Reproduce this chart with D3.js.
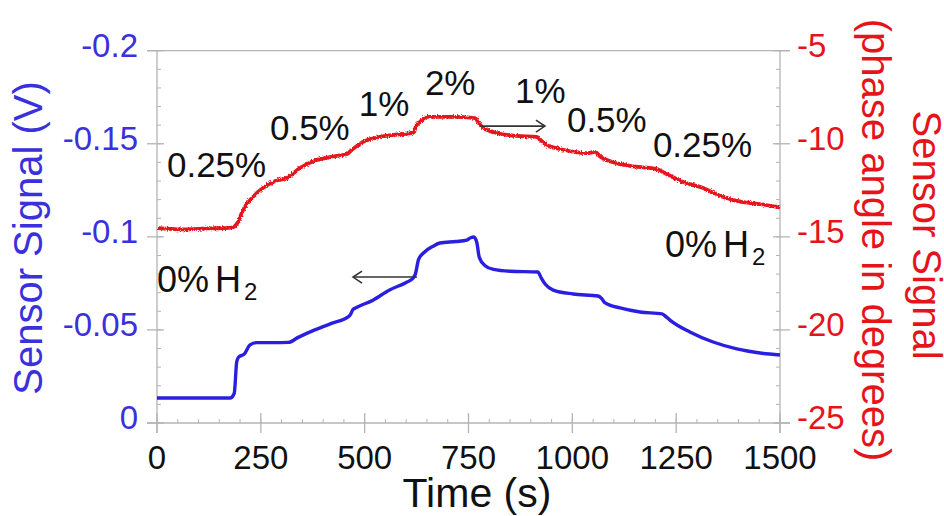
<!DOCTYPE html>
<html>
<head>
<meta charset="utf-8">
<script src="https://cdn.jsdelivr.net/npm/d3@7"></script>
<style>
  html, body { margin: 0; padding: 0; background: #fff; }
  svg { display: block; font-family: "Liberation Sans", Arial, sans-serif; }
</style>
</head>
<body>
<svg id="chart" width="944" height="516"></svg>
<script>
// Voltage signal (left axis), time in s
const blueTime = [0, 100, 176, 186, 192, 197, 210, 224, 240, 280, 316, 340, 380, 420, 460, 465, 472, 480, 520, 560, 600, 617, 622, 630, 645, 665, 681, 720, 746, 755, 763, 770, 776, 790, 810, 850, 917, 925, 935, 954, 1002, 1062, 1070, 1079, 1115, 1163, 1216, 1226, 1235, 1283, 1339, 1396, 1452, 1500];
const blueVolts = [-0.0134, -0.0134, -0.0134, -0.016, -0.033, -0.0355, -0.037, -0.042, -0.0432, -0.0432, -0.0433, -0.046, -0.050, -0.0535, -0.057, -0.058, -0.061, -0.062, -0.066, -0.0715, -0.0755, -0.0779, -0.080, -0.088, -0.092, -0.095, -0.0967, -0.0975, -0.0983, -0.0995, -0.0999, -0.097, -0.089, -0.0845, -0.0825, -0.0815, -0.0811, -0.078, -0.0745, -0.0714, -0.0693, -0.0682, -0.067, -0.0645, -0.0618, -0.0596, -0.0586, -0.057, -0.0553, -0.0489, -0.0435, -0.0398, -0.0376, -0.0365];

// Phase angle signal (right axis), time in s
const redTime = [0, 60, 120, 180, 195, 207, 231, 255, 285, 313, 344, 385, 420, 457, 469, 496, 537, 580, 616, 625, 633, 650, 713, 766, 775, 783, 809, 866, 914, 926, 938, 970, 1035, 1054, 1068, 1083, 1139, 1204, 1218, 1267, 1315, 1363, 1411, 1452, 1495, 1500];
const redDegrees = [-14.52, -14.6, -14.55, -14.5, -14.2, -13.56, -12.86, -12.38, -12.0, -11.84, -11.30, -10.87, -10.7, -10.55, -10.33, -9.90, -9.63, -9.5, -9.42, -9.0, -8.83, -8.56, -8.56, -8.62, -8.9, -9.10, -9.37, -9.58, -9.63, -9.85, -10.07, -10.28, -10.50, -10.44, -10.7, -10.87, -11.19, -11.36, -11.52, -12.05, -12.38, -12.86, -13.13, -13.24, -13.40, -13.42];

// Axis ticks
const timeTicks = [0, 250, 500, 750, 1000, 1250, 1500];
const voltTicks = [-0.2, -0.15, -0.1, -0.05, 0];
const voltTickLabels = ["-0.2", "-0.15", "-0.1", "-0.05", "0"];
const degreeTicks = [-5, -10, -15, -20, -25];

// Concentration steps: label, time, phase angle (baseline position)
const stepLabels = ["0.25%", "0.5%", "1%", "2%", "1%", "0.5%", "0.25%"];
const stepTime = [24, 272, 486, 645, 862, 987, 1194];
const stepDegrees = [-11.78, -9.80, -8.51, -7.38, -7.81, -9.37, -10.71];

// Baseline (0% H2) labels: time, phase angle
const zeroTime = [0, 1223];
const zeroDegrees = [-17.96, -16.08];

const svg = d3.select("#chart");

const x = d3.scaleLinear().domain([0, 1500]).range([157, 780]);
const yL = d3.scaleLinear().domain([0, -0.2]).range([423, 50.7]);
const yR = d3.scaleLinear().domain([-25, -5]).range([423, 50.7]);

const BLUE = "#2a1fe0";
const RED = "#e5141b";
const AXIS = "#b4b4b4";

// Slight roughness for the phase-angle trace
const defs = svg.append("defs");
const f = defs.append("filter").attr("id", "rough").attr("x", "-5%").attr("y", "-20%").attr("width", "110%").attr("height", "140%");
f.append("feTurbulence").attr("type", "fractalNoise").attr("baseFrequency", 0.8).attr("numOctaves", 2).attr("seed", 3).attr("result", "n");
f.append("feDisplacementMap").attr("in", "SourceGraphic").attr("in2", "n").attr("scale", 3.6).attr("xChannelSelector", "R").attr("yChannelSelector", "G");

// Frame
const g = svg.append("g");
const [x0, x1] = x.range();
const yTop = yL(-0.2), yBot = yL(0);
g.append("line").attr("x1", x0 - 10).attr("x2", x1 + 10).attr("y1", yTop).attr("y2", yTop).attr("stroke", AXIS).attr("stroke-width", 1.3);
g.append("line").attr("x1", x0 - 10).attr("x2", x1 + 10).attr("y1", yBot).attr("y2", yBot).attr("stroke", AXIS).attr("stroke-width", 1.3);
g.append("line").attr("x1", x0).attr("x2", x0).attr("y1", yTop).attr("y2", yBot + 10).attr("stroke", AXIS).attr("stroke-width", 1.3);
g.append("line").attr("x1", x1).attr("x2", x1).attr("y1", yTop).attr("y2", yBot + 10).attr("stroke", AXIS).attr("stroke-width", 1.3);

// Minor ticks (inward)
const xMinor = d3.range(0, 1501, 50);
g.selectAll(".xm").data(xMinor).join("line")
  .attr("x1", d => x(d)).attr("x2", d => x(d)).attr("y1", yBot).attr("y2", yBot - 4)
  .attr("stroke", AXIS).attr("stroke-width", 1);
const yMinor = d3.range(0, 21).map(i => -0.01 * i);
g.selectAll(".ylm").data(yMinor).join("line")
  .attr("x1", x0).attr("x2", x0 + 4).attr("y1", d => yL(d)).attr("y2", d => yL(d))
  .attr("stroke", AXIS).attr("stroke-width", 1);
g.selectAll(".yrm").data(yMinor).join("line")
  .attr("x1", x1).attr("x2", x1 - 4).attr("y1", d => yL(d)).attr("y2", d => yL(d))
  .attr("stroke", AXIS).attr("stroke-width", 1);

// Major ticks (crossing)
g.selectAll(".xM").data(timeTicks).join("line")
  .attr("x1", d => x(d)).attr("x2", d => x(d)).attr("y1", yBot - 10).attr("y2", yBot + 10)
  .attr("stroke", AXIS).attr("stroke-width", 1.3);
g.selectAll(".ylM").data(voltTicks).join("line")
  .attr("x1", x0 - 10).attr("x2", x0 + 7).attr("y1", d => yL(d)).attr("y2", d => yL(d))
  .attr("stroke", AXIS).attr("stroke-width", 1.3);
g.selectAll(".yrM").data(degreeTicks).join("line")
  .attr("x1", x1 - 7).attr("x2", x1 + 10).attr("y1", d => yR(d)).attr("y2", d => yR(d))
  .attr("stroke", AXIS).attr("stroke-width", 1.3);

// Tick labels
g.selectAll(".xl").data(timeTicks).join("text")
  .attr("x", d => x(d)).attr("y", 469).attr("text-anchor", "middle")
  .attr("font-size", 33).attr("fill", "#111").text(d => d);
g.selectAll(".yll").data(voltTicks).join("text")
  .attr("x", 138).attr("y", d => yL(d) + 6).attr("text-anchor", "end")
  .attr("font-size", 33).attr("fill", "#3a30dc").text((d, i) => voltTickLabels[i]);
g.selectAll(".yrl").data(degreeTicks).join("text")
  .attr("x", 797).attr("y", d => yR(d) + 6).attr("text-anchor", "start")
  .attr("font-size", 33).attr("fill", RED).text(d => d);

// Axis titles
svg.append("text").attr("x", 477).attr("y", 507).attr("text-anchor", "middle")
  .attr("font-size", 41).attr("fill", "#111").text("Time (s)");
svg.append("text").attr("transform", "translate(42,238) rotate(-90)").attr("text-anchor", "middle")
  .attr("font-size", 40).attr("fill", "#3a30dc").text("Sensor Signal (V)");
svg.append("text").attr("transform", "translate(913,235) rotate(90)").attr("text-anchor", "middle")
  .attr("font-size", 40).attr("fill", RED).text("Sensor Signal");
svg.append("text").attr("transform", "translate(862,240) rotate(90)").attr("text-anchor", "middle")
  .attr("font-size", 40).attr("fill", RED).text("(phase angle in degrees)");

// Traces
const blueLine = d3.line().x((d, i) => x(blueTime[i])).y(d => yL(d)).curve(d3.curveMonotoneX);
svg.append("path").attr("d", blueLine(blueVolts)).attr("fill", "none")
  .attr("stroke", BLUE).attr("stroke-width", 3.4).attr("stroke-linejoin", "round");

const redLine = d3.line().x((d, i) => x(redTime[i])).y(d => yR(d)).curve(d3.curveMonotoneX);
svg.append("path").attr("d", redLine(redDegrees)).attr("fill", "none")
  .attr("stroke", RED).attr("stroke-width", 3.8).attr("stroke-linejoin", "round")
  .attr("filter", "url(#rough)");

// Concentration labels
svg.selectAll(".step").data(stepLabels).join("text")
  .attr("x", (d, i) => x(stepTime[i])).attr("y", (d, i) => yR(stepDegrees[i]))
  .attr("font-size", 35).attr("fill", "#111").text(d => d);

// 0% H2 labels
zeroTime.forEach((t, i) => {
  const tx = svg.append("text").attr("x", x(t)).attr("y", yR(zeroDegrees[i]))
    .attr("font-size", 36).attr("fill", "#111");
  tx.append("tspan").text("0%");
  tx.append("tspan").attr("dx", 6).text("H");
  tx.append("tspan").attr("font-size", 24).attr("dx", 3).attr("dy", 8).text("2");
});

// Arrows pointing to the matching axis
const arrowTime = [[626, 472], [778, 934]];
const arrowLevel = [yL(-0.0784), yR(-9.05)];
arrowTime.forEach((a, i) => {
  const xa = x(a[0]), xb = x(a[1]), yy = arrowLevel[i];
  const dir = Math.sign(xb - xa);
  svg.append("line").attr("x1", xa).attr("x2", xb).attr("y1", yy).attr("y2", yy)
    .attr("stroke", "#333").attr("stroke-width", 1.6);
  svg.append("path")
    .attr("d", `M${xb - dir * 9},${yy - 6} L${xb},${yy} L${xb - dir * 9},${yy + 6}`)
    .attr("fill", "none").attr("stroke", "#333").attr("stroke-width", 1.6);
});
</script>
</body>
</html>
